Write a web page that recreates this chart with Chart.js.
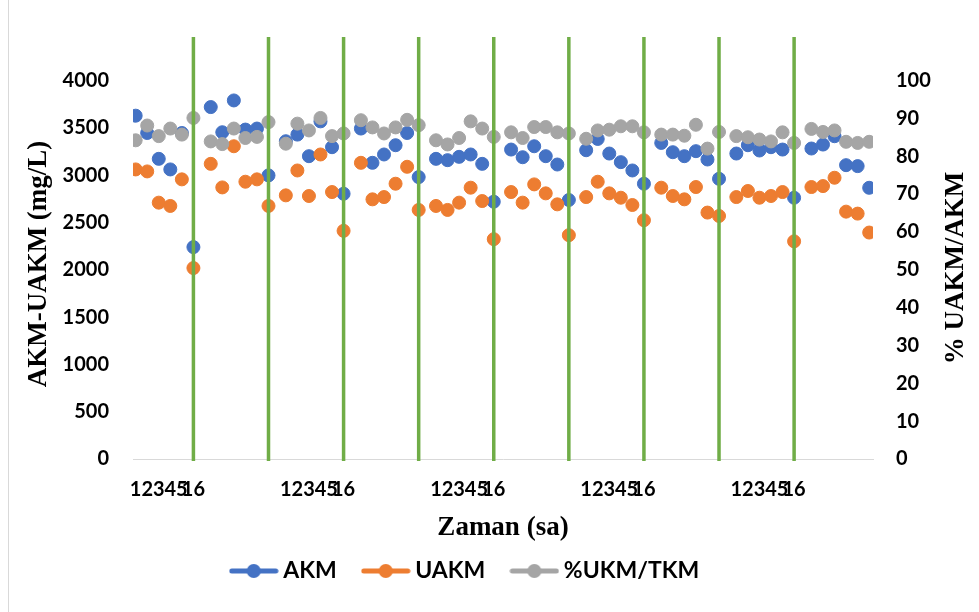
<!DOCTYPE html>
<html><head><meta charset="utf-8">
<script src="https://cdn.jsdelivr.net/npm/chart.js@4/dist/chart.umd.min.js"></script>
<style>html,body{margin:0;padding:0;background:#fff}canvas{display:block}</style>
</head><body>
<canvas id="c" width="979" height="612"></canvas>
<script>
// ---- data ----
const pointsPerGroup = 6;
const groupStride = 6.5;
const xTickLabels = ['1', '2', '3', '4', '5', '16'];
const labeledGroups = [0, 2, 4, 6, 8];
const separatorGroups = [0, 1, 2, 3, 4, 5, 6, 7, 8];
const seriesNames = ['AKM', 'UAKM', '%UKM/TKM'];
const leftTicks = [0, 500, 1000, 1500, 2000, 2500, 3000, 3500, 4000];
const rightTicks = [0, 10, 20, 30, 40, 50, 60, 70, 80, 90, 100];
const akm = [3628, 3445, 3172, 3060, 3445, 2239,
             3719, 3453, 3789, 3481, 3492, 2997,
             3358, 3428, 3200, 3568, 3295, 2803,
             3492, 3130, 3218, 3316, 3445, 2979,
             3172, 3158, 3193, 3218, 3119, 2719,
             3270, 3189, 3305, 3200, 3112, 2737,
             3263, 3382, 3228, 3137, 3049, 2909,
             3340, 3242, 3200, 3253, 3165, 2961,
             3228, 3316, 3260, 3295, 3270, 2761,
             3281, 3323, 3411, 3105, 3095, 2866];
const uakm = [3060, 3039, 2709, 2674, 2955, 2018,
              3119, 2870, 3305, 2930, 2955, 2674,
              2786, 3049, 2779, 3218, 2821, 2411,
              3130, 2744, 2768, 2909, 3088, 2632,
              2674, 2632, 2709, 2867, 2726, 2323,
              2821, 2709, 2902, 2807, 2691, 2365,
              2768, 2930, 2807, 2761, 2684, 2523,
              2867, 2779, 2744, 2874, 2604, 2568,
              2768, 2832, 2761, 2779, 2821, 2300,
              2874, 2884, 2972, 2614, 2593, 2393];
const pct = [84.2, 88.1, 85.3, 87.3, 85.7, 90.1,
             83.9, 83.2, 87.3, 84.8, 85.1, 89.0,
             83.3, 88.6, 86.8, 90.1, 85.3, 86.0,
             89.5, 87.6, 86.0, 87.6, 89.6, 88.2,
             84.2, 83.1, 84.8, 89.2, 87.3, 85.1,
             86.3, 84.8, 87.7, 87.7, 86.3, 86.0,
             84.6, 86.8, 87.0, 87.9, 87.9, 86.3,
             85.7, 85.7, 85.4, 88.3, 82.0, 86.4,
             85.3, 85.0, 84.4, 83.9, 86.3, 83.5,
             87.2, 86.4, 86.8, 83.8, 83.5, 83.8];
const separatorBottom = -20;
const separatorTop = 4460;

// ---- helpers ----
const colors = ['#4472C4', '#ED7D31', '#A5A5A5'];
const green = '#70AD47';
const xOf = i => Math.floor(i / pointsPerGroup) * groupStride + (i % pointsPerGroup);
const toPts = arr => arr.map((v, i) => ({x: xOf(i), y: v}));
const sepData = separatorGroups.flatMap(g => {
  const x = g * groupStride + pointsPerGroup - 1;
  return [{x, y: separatorBottom}, {x, y: separatorTop}, {x, y: null}];
});
function legendSymbol(color) {
  const c = document.createElement('canvas');
  c.width = 50; c.height = 16;
  const g = c.getContext('2d');
  g.strokeStyle = color; g.lineWidth = 5; g.lineCap = 'round';
  g.beginPath(); g.moveTo(3, 8); g.lineTo(47, 8); g.stroke();
  g.fillStyle = color; g.beginPath(); g.arc(25, 8, 7, 0, Math.PI * 2); g.fill();
  return c;
}
const symbols = colors.map(legendSymbol);

const tickFont = {family: 'Lato', weight: 'bold', size: 20};
const titleFont = 'bold 27px "Liberation Serif"';

const decor = {
  id: 'decor',
  afterLayout(chart) {
    // legend in the reference is centred a little left of the canvas centre
    if (chart.legend) chart.legend.right = chart.legend.right - 44;
  },
  beforeDraw(chart) {
    const ctx = chart.ctx;
    ctx.save();
    ctx.fillStyle = '#fff';
    ctx.fillRect(0, 0, chart.width, chart.height);
    ctx.strokeStyle = '#D9D9D9'; ctx.lineWidth = 1;
    ctx.beginPath(); ctx.moveTo(8.5, 0); ctx.lineTo(8.5, chart.height); ctx.stroke();
    ctx.restore();
  },
  afterDraw(chart) {
    const ctx = chart.ctx;
    ctx.save();
    ctx.fillStyle = '#000';
    ctx.font = titleFont;
    ctx.textAlign = 'center'; ctx.textBaseline = 'middle';
    ctx.translate(39, 264); ctx.rotate(-Math.PI / 2);
    ctx.fillText('AKM-UAKM (mg/L)', 0, 0);
    ctx.restore();
    ctx.save();
    ctx.fillStyle = '#000';
    ctx.font = titleFont;
    ctx.textAlign = 'center'; ctx.textBaseline = 'middle';
    ctx.translate(956, 268); ctx.rotate(-Math.PI / 2);
    ctx.fillText('% UAKM/AKM', 0, 0);
    ctx.restore();
  }
};

new Chart(document.getElementById('c'), {
  type: 'scatter',
  data: {
    datasets: [
      {label: seriesNames[0], data: toPts(akm), yAxisID: 'y', order: 3,
       backgroundColor: colors[0], borderColor: colors[0], pointRadius: 6.5, pointHoverRadius: 6.5, pointBorderWidth: 1},
      {label: seriesNames[1], data: toPts(uakm), yAxisID: 'y', order: 2,
       backgroundColor: colors[1], borderColor: colors[1], pointRadius: 6.5, pointHoverRadius: 6.5, pointBorderWidth: 1},
      {label: seriesNames[2], data: toPts(pct), yAxisID: 'y1', order: 1,
       backgroundColor: colors[2], borderColor: colors[2], pointRadius: 6.5, pointHoverRadius: 6.5, pointBorderWidth: 1},
      {label: 'sep', data: sepData, yAxisID: 'y', order: 0, showLine: true, spanGaps: false,
       borderColor: green, borderWidth: 3.5, pointRadius: 0, pointHoverRadius: 0, clip: false}
    ]
  },
  options: {
    responsive: false,
    animation: false,
    devicePixelRatio: 1,
    layout: {padding: {top: 34.4, left: 0, right: 0, bottom: 19.5}},
    plugins: {
      tooltip: {enabled: false},
      legend: {
        position: 'bottom',
        labels: {
          usePointStyle: true,
          pointStyleWidth: 36,
          padding: 31,
          color: '#000',
          font: {family: 'Lato', weight: 'bold', size: 23},
          generateLabels: () => seriesNames.map((n, i) => ({
            text: n, pointStyle: symbols[i], fillStyle: colors[i], strokeStyle: colors[i],
            lineWidth: 0, hidden: false, datasetIndex: i, fontColor: '#000'
          }))
        }
      }
    },
    scales: {
      x: {
        type: 'linear', min: -0.23, max: 63.83,
        grid: {display: false, drawTicks: false},
        border: {display: true, color: '#D9D9D9', width: 1},
        afterBuildTicks: s => {
          s.ticks = labeledGroups.flatMap(g => xTickLabels.map((_, j) => ({value: g * groupStride + j})));
        },
        ticks: {autoSkip: false, maxRotation: 0, minRotation: 0, padding: 19, color: '#000', font: tickFont,
                callback: (v, i) => xTickLabels[i % xTickLabels.length]},
        title: {display: true, text: 'Zaman (sa)', color: '#000',
                font: {family: 'Liberation Serif', weight: 'bold', size: 27}, padding: {top: 0, bottom: -15.7}},
        afterFit: s => { s.height = 69.5; }
      },
      y: {
        position: 'left', min: 0, max: 4470,
        grid: {display: false, drawTicks: false},
        border: {display: false},
        ticks: {autoSkip: false, padding: 24, color: '#000', font: tickFont, callback: v => String(v)},
        afterBuildTicks: s => { s.ticks = leftTicks.map(v => ({value: v})); },
        afterFit: s => { s.width = 133; }
      },
      y1: {
        position: 'right', min: 0, max: 111.75,
        grid: {display: false, drawTicks: false},
        border: {display: false},
        ticks: {autoSkip: false, padding: 23, color: '#000', font: tickFont, callback: v => String(v)},
        afterBuildTicks: s => { s.ticks = rightTicks.map(v => ({value: v})); },
        afterFit: s => { s.width = 106; }
      }
    }
  },
  plugins: [decor]
});
</script>
</body></html>
